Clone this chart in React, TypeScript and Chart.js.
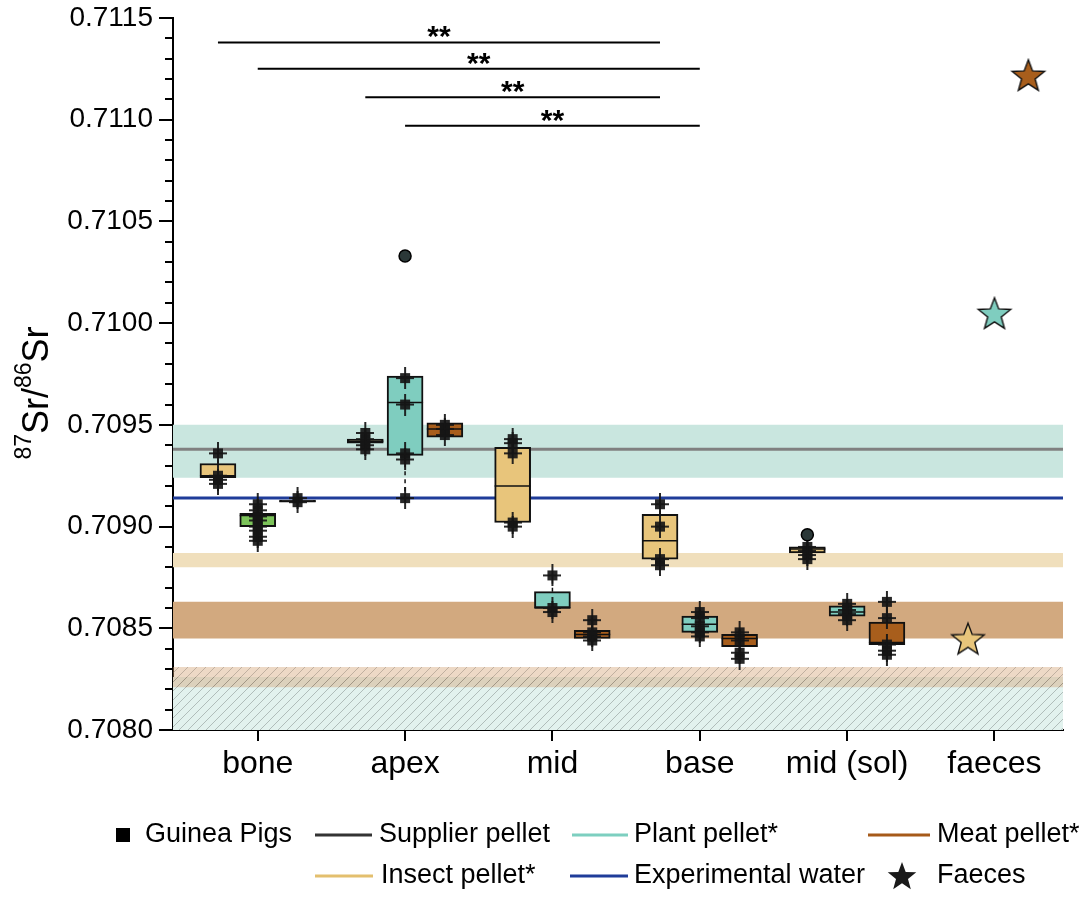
import React, { useEffect, useRef } from "react";
import { Chart, registerables } from "chart.js";

Chart.register(...registerables);

// ---------- data ----------
const categories = ["bone", "apex", "mid", "base", "mid (sol)", "faeces"];
const yMin = 0.708;
const yMax = 0.7115;
const yStep = 0.0005;
const yMinorStep = 0.0001;

// [lower whisker, Q1, median, Q3, upper whisker] per category (null = none)
const insectBoxes = [
  [0.70921, 0.70924, 0.70925, 0.70931, 0.70936],
  [0.70937, 0.70941, 0.70942, 0.70943, 0.70946],
  [0.709, 0.70902, 0.7092, 0.70939, 0.70943],
  [0.70879, 0.70884, 0.70893, 0.70906, 0.70912],
  [0.70882, 0.70887, 0.70889, 0.7089, 0.70892],
  null,
];
const plantBoxes = [
  null,
  [0.70914, 0.70935, 0.70961, 0.70974, 0.70974],
  [0.70857, 0.7086, 0.7086, 0.70868, 0.70876],
  [0.70844, 0.70848, 0.70852, 0.70856, 0.7086],
  [0.70851, 0.70856, 0.70858, 0.70861, 0.70864],
  null,
];
const meatBoxes = [
  null,
  [0.70944, 0.70944, 0.70948, 0.70951, 0.70951],
  [0.70843, 0.70845, 0.70847, 0.70849, 0.70856],
  [0.70834, 0.70841, 0.70845, 0.70847, 0.7085],
  [0.70836, 0.70842, 0.70843, 0.70853, 0.70856],
  null,
];
const boneDietBoxes = [[0.70893, 0.709, 0.709055, 0.709065, 0.70912], null, null, null, null, null];
const supplierBoxes = [[0.70912, 0.70912, 0.709125, 0.70913, 0.70914], null, null, null, null, null];

// individual guinea pig values
const insectPoints = [
  [0.70936, 0.70925, 0.70923, 0.70921],
  [0.70946, 0.70943, 0.7094, 0.70938],
  [0.70943, 0.70941, 0.70936, 0.70902, 0.709],
  [0.70911, 0.709, 0.70884, 0.70881],
  [0.7089, 0.70888, 0.70886, 0.70884],
  [],
];
const plantPoints = [
  [],
  [0.70973, 0.7096, 0.70936, 0.70933, 0.70914],
  [0.70876, 0.7086, 0.70858],
  [0.70858, 0.70855, 0.70851, 0.70848, 0.70846],
  [0.70862, 0.70859, 0.70857, 0.70854],
  [],
];
const meatPoints = [
  [],
  [0.7095, 0.70948, 0.70945],
  [0.70854, 0.70848, 0.70846, 0.70844],
  [0.70848, 0.70844, 0.70838, 0.70835],
  [0.70863, 0.70855, 0.70842, 0.70839, 0.70837],
  [],
];
const boneDietPoints = [[0.70911, 0.70908, 0.70905, 0.70903, 0.709, 0.70898, 0.70895, 0.70893], [], [], [], [], []];
const supplierPoints = [[0.70914, 0.70912], [], [], [], [], []];

const plantOutliers = [[], [0.71033], [], [], [], []];
const insectOutliers = [[], [], [], [], [0.70896], []];

// faeces: insect, plant, meat
const faecesValues = [0.70845, 0.71005, 0.71122];

// reference lines and ranges
const supplierPellet = 0.70938;
const experimentalWater = 0.70914;
const plantBand = [0.70924, 0.7095];
const insectBand = [0.7088, 0.70887];
const meatBand = [0.70845, 0.70863];
const meatHatchBand = [0.70821, 0.70831];
const plantHatchBand = [0.708, 0.70826];

// significance comparisons: [fromCategory, fromSlot, toCategory, toSlot, height]
const sigBars = [
  [0, 0, 3, 0, 0.71138],
  [0, 1, 3, 1, 0.71125],
  [1, 0, 3, 0, 0.71111],
  [1, 1, 3, 1, 0.71097],
];
const sigLabel = "**";

// ---------- layout constants ----------
const SLOT = [-0.27, 0, 0.27];
const STAR_OFF = [-0.18, 0, 0.23];
const xMin = -0.575;
const xMax = 5.465;
const FONT = "'Liberation Sans', Arial, Helvetica, sans-serif";

const C = {
  insect: "#E8C57B",
  plant: "#7FCDBF",
  meat: "#A85E1C",
  boneDiet: "#7CC35A",
  supplier: "#1c1c1c",
  plantBand: "#C9E6DF",
  insectBand: "#F0DFBC",
  meatBand: "#D2A97F",
  grey: "#808080",
  water: "#1F3C99",
};

function boxData(boxes: any[], slot: number) {
  const out: any[] = [];
  boxes.forEach((b, i) => {
    if (b) out.push({ x: i + SLOT[slot], y: [b[1], b[3]], stats: b });
  });
  return out;
}
function pointData(pts: number[][], slot: number) {
  const out: any[] = [];
  pts.forEach((arr, i) => arr.forEach((v) => out.push({ x: i + SLOT[slot], y: v })));
  return out;
}

function makeStar(fill: string, R: number) {
  const r = R * 0.42;
  const s = Math.ceil(R * 2 + 6);
  const c = document.createElement("canvas");
  c.width = s;
  c.height = s;
  const g = c.getContext("2d")!;
  const cx = s / 2;
  const cy = s / 2 + R * 0.1;
  g.beginPath();
  for (let k = 0; k < 10; k++) {
    const rad = k % 2 === 0 ? R : r;
    const a = -Math.PI / 2 + (k * Math.PI) / 5;
    const px = cx + rad * Math.cos(a);
    const py = cy + rad * Math.sin(a);
    if (k === 0) g.moveTo(px, py);
    else g.lineTo(px, py);
  }
  g.closePath();
  g.fillStyle = fill;
  g.fill();
  g.lineWidth = 1.4;
  g.strokeStyle = "#111";
  g.lineJoin = "miter";
  g.stroke();
  return c;
}

function makePoint() {
  const c = document.createElement("canvas");
  c.width = 18;
  c.height = 22;
  const g = c.getContext("2d")!;
  g.fillStyle = "rgba(22,22,22,0.92)";
  g.fillRect(8, 0, 2, 22);
  g.fillRect(0, 10, 18, 2);
  g.fillRect(4, 6, 10, 10);
  return c;
}

export default function App() {
  const ref = useRef<HTMLCanvasElement>(null);

  useEffect(() => {
    document.body.style.margin = "0";
    const canvas = ref.current!;
    const ctx0 = canvas.getContext("2d")!;

    const makePattern = (bg: string, line: string) => {
      const c = document.createElement("canvas");
      c.width = 9;
      c.height = 9;
      const g = c.getContext("2d")!;
      g.fillStyle = bg;
      g.fillRect(0, 0, 9, 9);
      g.strokeStyle = line;
      g.lineWidth = 0.8;
      g.beginPath();
      g.moveTo(0, 9);
      g.lineTo(9, 0);
      g.moveTo(-1, 1);
      g.lineTo(1, -1);
      g.moveTo(8, 10);
      g.lineTo(10, 8);
      g.stroke();
      return ctx0.createPattern(c, "repeat")!;
    };

    const pointImg = makePoint();
    const starImgs = [makeStar(C.insect, 17), makeStar(C.plant, 17), makeStar(C.meat, 17)];

    const band = (range: number[], bg: any, order: number) => ({
      type: "line",
      data: [
        { x: xMin, y: range[1] },
        { x: xMax, y: range[1] },
      ],
      borderColor: "transparent",
      borderWidth: 0,
      pointRadius: 0,
      fill: { value: range[0] },
      backgroundColor: bg,
      order,
    });
    const hline = (v: number, color: string, order: number) => ({
      type: "line",
      data: [
        { x: xMin, y: v },
        { x: xMax, y: v },
      ],
      borderColor: color,
      borderWidth: 3,
      pointRadius: 0,
      fill: false,
      order,
    });
    const boxes = (b: any[], slot: number, color: string) => ({
      type: "bar",
      isBox: true,
      data: boxData(b, slot),
      backgroundColor: color,
      borderColor: "#111",
      borderWidth: 2,
      borderSkipped: false,
      grouped: false,
      barThickness: 36,
      order: 5,
    });
    const pts = (p: number[][], slot: number) => ({
      type: "line",
      showLine: false,
      data: pointData(p, slot),
      pointStyle: pointImg,
      pointRadius: 9,
      order: 2,
    });
    const outl = (p: number[][], slot: number) => ({
      type: "line",
      showLine: false,
      data: pointData(p, slot),
      pointStyle: "circle",
      pointRadius: 6,
      backgroundColor: "#2b3838",
      borderColor: "#000",
      borderWidth: 1.5,
      order: 1,
    });
    const sigDatasets = sigBars.map((s) => ({
      type: "line",
      data: [
        { x: s[0] + SLOT[s[1]], y: s[4] },
        { x: s[2] + SLOT[s[3]], y: s[4] },
      ],
      borderColor: "#000",
      borderWidth: 2,
      pointRadius: 0,
      fill: false,
      order: 8,
    }));

    const datasets: any[] = [
      band(plantHatchBand, makePattern("#E2F2EE", "rgba(110,120,120,0.55)"), 12),
      band(meatHatchBand, makePattern("rgba(212,165,120,0.42)", "rgba(110,100,90,0.45)"), 11),
      band(plantBand, C.plantBand, 10),
      band(insectBand, C.insectBand, 10),
      band(meatBand, C.meatBand, 10),
      hline(supplierPellet, C.grey, 9),
      hline(experimentalWater, C.water, 9),
      ...sigDatasets,
      boxes(insectBoxes, 0, C.insect),
      boxes(plantBoxes, 1, C.plant),
      boxes(boneDietBoxes, 1, C.boneDiet),
      boxes(meatBoxes, 2, C.meat),
      boxes(supplierBoxes, 2, C.supplier),
      pts(insectPoints, 0),
      pts(plantPoints, 1),
      pts(boneDietPoints, 1),
      pts(meatPoints, 2),
      pts(supplierPoints, 2),
      outl(plantOutliers, 1),
      outl(insectOutliers, 0),
      {
        type: "line",
        showLine: false,
        data: faecesValues.map((v, k) => ({ x: 5 + STAR_OFF[k], y: v })),
        pointStyle: starImgs,
        pointRadius: 17,
        order: 0,
      },
    ];

    const boxExtras = {
      id: "boxExtras",
      afterDatasetDraw(chart: any, args: any) {
        const ds = chart.data.datasets[args.index];
        if (!ds.isBox) return;
        const ctx = chart.ctx;
        const ys = chart.scales.y;
        ctx.save();
        args.meta.data.forEach((el: any, j: number) => {
          const s = ds.data[j].stats;
          const x = el.x;
          const w = el.width;
          ctx.strokeStyle = "#111";
          ctx.lineWidth = 1.5;
          ctx.setLineDash([]);
          ctx.beginPath();
          const ym = ys.getPixelForValue(s[2]);
          ctx.moveTo(x - w / 2, ym);
          ctx.lineTo(x + w / 2, ym);
          ctx.stroke();
          ctx.setLineDash([4, 4]);
          ctx.beginPath();
          ctx.moveTo(x, ys.getPixelForValue(s[3]));
          ctx.lineTo(x, ys.getPixelForValue(s[4]));
          ctx.moveTo(x, ys.getPixelForValue(s[1]));
          ctx.lineTo(x, ys.getPixelForValue(s[0]));
          ctx.stroke();
        });
        ctx.restore();
      },
    };

    const extras = {
      id: "extras",
      afterDraw(chart: any) {
        const ctx = chart.ctx;
        const xs = chart.scales.x;
        const ys = chart.scales.y;
        const area = chart.chartArea;
        ctx.save();
        // minor ticks
        ctx.strokeStyle = "#000";
        ctx.lineWidth = 2;
        const n = Math.round((yMax - yMin) / yMinorStep);
        for (let i = 0; i <= n; i++) {
          if (i % 5 === 0) continue;
          const py = Math.round(ys.getPixelForValue(yMin + i * yMinorStep));
          ctx.beginPath();
          ctx.moveTo(area.left - 8, py);
          ctx.lineTo(area.left, py);
          ctx.stroke();
        }
        // significance labels
        ctx.fillStyle = "#000";
        ctx.font = `bold 30px ${FONT}`;
        ctx.textAlign = "center";
        ctx.textBaseline = "alphabetic";
        sigBars.forEach((s) => {
          const x1 = xs.getPixelForValue(s[0] + SLOT[s[1]]);
          const x2 = xs.getPixelForValue(s[2] + SLOT[s[3]]);
          const py = ys.getPixelForValue(s[4]);
          ctx.fillText(sigLabel, (x1 + x2) / 2, py + 4);
        });
        // y axis title with superscripts
        ctx.save();
        ctx.translate(48, 393);
        ctx.rotate(-Math.PI / 2);
        ctx.textAlign = "left";
        const big = `36px ${FONT}`;
        const small = `23px ${FONT}`;
        const parts: [string, boolean][] = [
          ["87", true],
          ["Sr/", false],
          ["86", true],
          ["Sr", false],
        ];
        let total = 0;
        parts.forEach(([t, sup]) => {
          ctx.font = sup ? small : big;
          total += ctx.measureText(t).width;
        });
        let cx = -total / 2;
        parts.forEach(([t, sup]) => {
          ctx.font = sup ? small : big;
          ctx.fillText(t, cx, sup ? -17 : 0);
          cx += ctx.measureText(t).width;
        });
        ctx.restore();
        // legend
        ctx.font = `27px ${FONT}`;
        ctx.textAlign = "left";
        ctx.textBaseline = "middle";
        const r1 = 835;
        const r2 = 876;
        const lineItem = (x1: number, x2: number, y: number, color: string, text: string, tx: number) => {
          ctx.strokeStyle = color;
          ctx.lineWidth = 3;
          ctx.setLineDash([]);
          ctx.beginPath();
          ctx.moveTo(x1, y);
          ctx.lineTo(x2, y);
          ctx.stroke();
          ctx.fillStyle = "#000";
          ctx.fillText(text, tx, y);
        };
        ctx.fillStyle = "#000";
        ctx.fillRect(116, r1 - 7, 14, 14);
        ctx.fillText("Guinea Pigs", 145, r1);
        lineItem(315, 372, r1, "#333333", "Supplier pellet", 379);
        lineItem(572, 628, r1, "#7DCFC0", "Plant pellet*", 634);
        lineItem(868, 930, r1, "#A65A1A", "Meat pellet*", 937);
        lineItem(315, 373, r2, "#E3BF6E", "Insect pellet*", 381);
        lineItem(570, 628, r2, C.water, "Experimental water", 634);
        // legend star
        ctx.beginPath();
        const R = 15;
        for (let k = 0; k < 10; k++) {
          const rad = k % 2 === 0 ? R : R * 0.42;
          const a = -Math.PI / 2 + (k * Math.PI) / 5;
          const px = 902 + rad * Math.cos(a);
          const py = r2 + 1 + rad * Math.sin(a);
          if (k === 0) ctx.moveTo(px, py);
          else ctx.lineTo(px, py);
        }
        ctx.closePath();
        ctx.fillStyle = "#1a1a1a";
        ctx.fill();
        ctx.fillStyle = "#000";
        ctx.fillText("Faeces", 937, r2);
        ctx.restore();
      },
    };

    const chart = new Chart(canvas, {
      type: "bar",
      data: { datasets },
      options: {
        responsive: false,
        animation: false,
        layout: { padding: { left: 0, right: 21, top: 17, bottom: 0 } },
        plugins: {
          legend: { display: false },
          tooltip: { enabled: false },
          title: { display: false },
        },
        scales: {
          x: {
            type: "linear",
            min: xMin,
            max: xMax,
            offset: false,
            afterBuildTicks: (ax: any) => {
              ax.ticks = categories.map((_, i) => ({ value: i }));
            },
            afterFit: (ax: any) => {
              ax.height = 169;
              ax.paddingLeft = 0;
              ax.paddingRight = 0;
            },
            grid: { drawOnChartArea: false, tickLength: 11, color: "#000", lineWidth: 2, offset: false },
            border: { color: "#000", width: 2 },
            ticks: {
              callback: (v: any) => categories[v] ?? "",
              font: { family: FONT, size: 32 },
              color: "#000",
              padding: 4,
              maxRotation: 0,
              autoSkip: false,
            },
          },
          y: {
            type: "linear",
            min: yMin,
            max: yMax,
            afterFit: (ax: any) => {
              ax.width = 173;
              ax.paddingTop = 0;
              ax.paddingBottom = 0;
            },
            ticks: {
              stepSize: yStep,
              callback: (v: any) => Number(v).toFixed(4),
              font: { family: FONT, size: 28 },
              color: "#000",
              padding: 6,
            },
            grid: { drawOnChartArea: false, tickLength: 14, color: "#000", lineWidth: 2 },
            border: { color: "#000", width: 2 },
          },
        },
      } as any,
      plugins: [boxExtras, extras],
    } as any);

    return () => chart.destroy();
  }, []);

  return (
    <div style={{ width: 1084, height: 899, background: "#fff" }}>
      <canvas ref={ref} width={1084} height={899} style={{ display: "block" }} />
    </div>
  );
}
